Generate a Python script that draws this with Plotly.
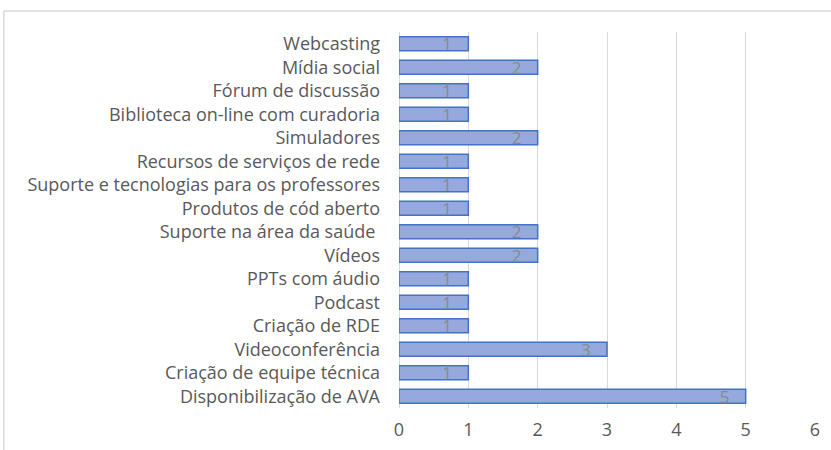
import plotly.graph_objects as go

# categories listed top to bottom as shown in the chart
categories = [
    "Webcasting",
    "Mídia social",
    "Fórum de discussão",
    "Biblioteca on-line com curadoria",
    "Simuladores",
    "Recursos de serviços de rede",
    "Suporte e tecnologias para os professores",
    "Produtos de cód aberto",
    "Suporte na área da saúde ",
    "Vídeos",
    "PPTs com áudio",
    "Podcast",
    "Criação de RDE",
    "Videoconferência",
    "Criação de equipe técnica",
    "Disponibilização de AVA",
]
values = [1, 2, 1, 1, 2, 1, 1, 1, 2, 2, 1, 1, 1, 3, 1, 5]
x_ticks = [0, 1, 2, 3, 4, 5, 6]

GREY = "#595959"
GRID = "#d9d9d9"
FONT = "Open Sans"

fig = go.Figure()

fig.add_trace(
    go.Bar(
        x=values,
        y=categories,
        orientation="h",
        marker=dict(color="#95a9dc", line=dict(color="#4472c4", width=1.5)),
        # non-breaking spaces push the label in from the bar end, like Excel
        text=[f"{v}\u00a0\u00a0\u00a0" for v in values],
        textposition="inside",
        insidetextanchor="end",
        textangle=0,
        constraintext="none",
        textfont=dict(family=FONT, size=17, color="#8a8a8a"),
        hoverinfo="x+y",
    )
)

fig.update_layout(
    width=831,
    height=450,
    plot_bgcolor="white",
    paper_bgcolor="white",
    font=dict(family=FONT, color=GREY, size=17),
    showlegend=False,
    bargap=0.4,
    margin=dict(l=399, r=16, t=32, b=42),
    shapes=[
        # chart frame (top and left edges visible)
        dict(type="line", xref="paper", yref="paper",
             x0=-0.95, x1=1.2, y0=1.056, y1=1.056,
             line=dict(color=GRID, width=1.5)),
        dict(type="line", xref="paper", yref="paper",
             x0=-0.95, x1=-0.95, y0=1.056, y1=-0.3,
             line=dict(color=GRID, width=1.5)),
    ],
)

fig.update_xaxes(
    range=[0, 6],
    tickvals=x_ticks,
    showgrid=True,
    gridcolor=GRID,
    gridwidth=1,
    zeroline=True,
    zerolinecolor=GRID,
    zerolinewidth=1,
    showline=False,
    ticks="",
    tickfont=dict(size=18, color=GREY),
    ticklabelstandoff=9,
    automargin=False,
)

fig.update_yaxes(
    autorange="reversed",
    showgrid=False,
    showline=False,
    ticks="",
    tickfont=dict(size=18, color=GREY),
    ticklabelstandoff=18,
    automargin=False,
)

fig.write_html(
    "out.html",
    config={"displayModeBar": False},
    post_script="document.body.style.margin='0';",
)
